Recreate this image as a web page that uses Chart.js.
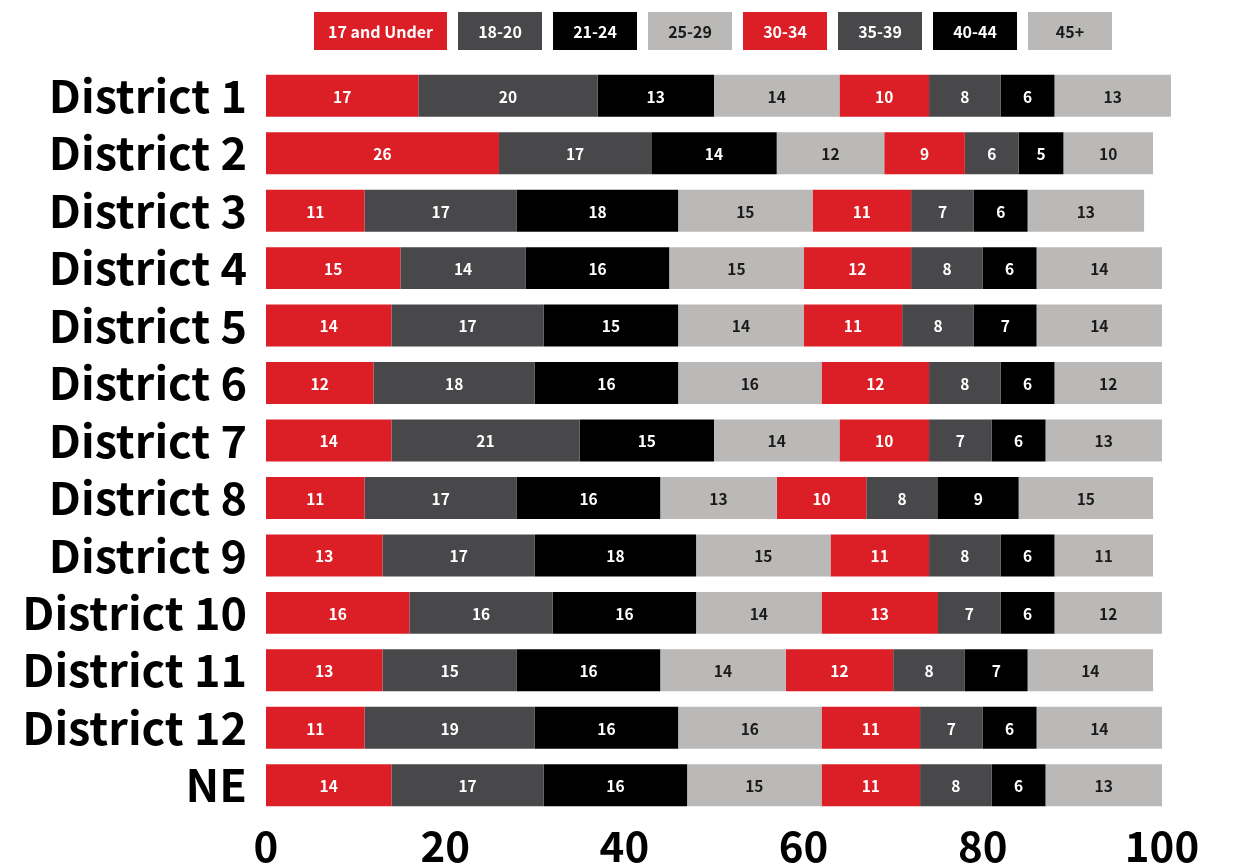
<!DOCTYPE html>
<html>
<head>
<meta charset="utf-8">
<script src="https://cdn.jsdelivr.net/npm/chart.js@4.4.1/dist/chart.umd.min.js"></script>
<style>
html,body{margin:0;padding:0;background:#fff;}
#wrap{position:relative;width:1235px;height:867px;}
</style>
</head>
<body>
<div id="wrap"><canvas id="c" width="1235" height="867"></canvas></div>
<script>
const categories = ["District 1","District 2","District 3","District 4","District 5","District 6","District 7","District 8","District 9","District 10","District 11","District 12","NE"];
const seriesNames = ["17 and Under","18-20","21-24","25-29","30-34","35-39","40-44","45+"];
const age17Under = [17,26,11,15,14,12,14,11,13,16,13,11,14];
const age18to20  = [20,17,17,14,17,18,21,17,17,16,15,19,17];
const age21to24  = [13,14,18,16,15,16,15,16,18,16,16,16,16];
const age25to29  = [14,12,15,15,14,16,14,13,15,14,14,16,15];
const age30to34  = [10,9,11,12,11,12,10,10,11,13,12,11,11];
const age35to39  = [8,6,7,8,8,8,7,8,8,7,8,7,8];
const age40to44  = [6,5,6,6,7,6,6,9,6,6,7,6,6];
const age45plus  = [13,10,13,14,14,12,13,15,11,12,14,14,13];
const xTicks = [0,20,40,60,80,100];

const seriesValues = [age17Under,age18to20,age21to24,age25to29,age30to34,age35to39,age40to44,age45plus];
const colors = ["#DC1E26","#48484A","#000000","#BAB9B7","#DC1E26","#48484A","#000000","#BAB9B7"];
const textColors = ["#fff","#fff","#fff","#1a1a1a","#fff","#fff","#fff","#1a1a1a"];
const FONT = "'Noto Sans CJK JP','Noto Sans',sans-serif";

const valueLabels = {
  id: 'valueLabels',
  afterDatasetsDraw(chart) {
    const ctx = chart.ctx;
    ctx.save();
    ctx.font = "bold 15.5px " + FONT;
    ctx.textAlign = 'center';
    ctx.textBaseline = 'middle';
    chart.data.datasets.forEach((ds, i) => {
      const meta = chart.getDatasetMeta(i);
      meta.data.forEach((bar, j) => {
        const p = bar.getProps(['x','y','base'], true);
        ctx.fillStyle = textColors[i];
        ctx.fillText(String(ds.data[j]), (p.x + p.base) / 2, p.y + 1);
      });
    });
    ctx.restore();
  }
};

const boxLegend = {
  id: 'boxLegend',
  afterDraw(chart) {
    const ctx = chart.ctx;
    ctx.save();
    ctx.font = "bold 16px " + FONT;
    ctx.textAlign = 'center';
    ctx.textBaseline = 'middle';
    let x = 314;
    const y = 12, h = 38, gap = 11;
    chart.data.datasets.forEach((ds, i) => {
      const tw = ctx.measureText(ds.label).width;
      const w = Math.max(84, Math.round(tw + 28));
      ctx.fillStyle = colors[i];
      ctx.fillRect(x, y, w, h);
      ctx.fillStyle = textColors[i];
      ctx.fillText(ds.label, x + w / 2, y + h / 2 + 1);
      x += w + gap;
    });
    ctx.restore();
  }
};

new Chart(document.getElementById('c'), {
  type: 'bar',
  data: {
    labels: categories,
    datasets: seriesNames.map((name, i) => ({
      label: name,
      data: seriesValues[i],
      backgroundColor: colors[i],
      borderWidth: 0,
      barPercentage: 0.73,
      categoryPercentage: 1.0,
      clip: false
    }))
  },
  options: {
    indexAxis: 'y',
    responsive: false,
    animation: false,
    layout: { padding: { top: 67, right: 73, bottom: 0, left: 0 } },
    plugins: { legend: { display: false }, tooltip: { enabled: false } },
    scales: {
      x: {
        stacked: true,
        min: 0, max: 100,
        afterBuildTicks(axis) { axis.ticks = xTicks.map(v => ({ value: v })); },
        afterFit(scale) { scale.height = 53; },
        grid: { display: false, drawTicks: false },
        border: { display: false },
        ticks: { color: '#000', font: { family: FONT, size: 42, weight: 'bold', lineHeight: 1 }, padding: 11, maxRotation: 0, autoSkip: false }
      },
      y: {
        stacked: true,
        afterFit(scale) { scale.width = 266; },
        grid: { display: false, drawTicks: false },
        border: { display: false },
        ticks: { color: '#000', font: { family: FONT, size: 45, weight: 'bold' }, padding: 19, autoSkip: false }
      }
    }
  },
  plugins: [valueLabels, boxLegend]
});
</script>
</body>
</html>
